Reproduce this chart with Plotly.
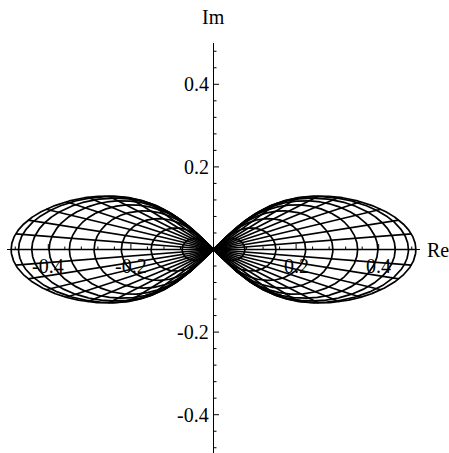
import numpy as np
import plotly.graph_objects as go

# ---- data ----
# real-axis extents of the nested loops (same on both sides)
loop_extents = [0.076, 0.151, 0.223, 0.289, 0.349, 0.398, 0.440, 0.472, 0.490]
# directions (degrees) of the straight rays leaving the origin in the right lobe
ray_angles_deg = [-40.5, -36.0, -31.5, -27.0, -22.5, -18.0, -13.5, -9.0, -4.5, 0.0,
                  4.5, 9.0, 13.5, 18.0, 22.5, 27.0, 31.5, 36.0, 40.5]
x_ticks_major = [-0.4, -0.2, 0.2, 0.4]
x_tick_labels = ["-0.4", "-0.2", "0.2", "0.4"]
y_ticks_major = [-0.4, -0.2, 0.2, 0.4]
y_tick_labels = ["-0.4", "-0.2", "0.2", "0.4"]
minor_step = 0.04
axis_labels = ["Re", "Im"]

PX = 413.0  # pixels per unit
W, H = 449, 453
ML, MR, MT, MB = 7, 29, 43, 0
yr_lo = 0.5 - (H - MT - MB) / PX
X0 = ML + 0.5 * PX          # pixel x of the origin
Y0 = MT + 0.5 * PX          # pixel y of the origin
FLAT = 1.3                  # how much the larger loops flatten


def loop_points(a, n=1500):
    """Closed loop through the origin reaching the real axis at a."""
    t = a * a
    A = t / 2.0
    B = A * (1.0 - FLAT * t)
    tau = np.linspace(0, 2 * np.pi, n)
    zeta = A * (1 + np.cos(tau)) + 1j * B * np.sin(tau)
    return np.sqrt(zeta)


fig = go.Figure()
line = dict(color="black", width=1.7)

for a in loop_extents:
    w = loop_points(a)
    for s in (1, -1):
        fig.add_trace(go.Scatter(x=s * w.real, y=w.imag, mode="lines", line=line,
                                 hoverinfo="skip", showlegend=False))

# rays end on the outermost loop
wo = loop_points(max(loop_extents), 4000)
half = wo[: len(wo) // 2]
ang = np.degrees(np.angle(half))
rad = np.abs(half)
order = np.argsort(ang)
for a_deg in ray_angles_deg:
    rend = np.interp(abs(a_deg), ang[order], rad[order])
    b = np.deg2rad(a_deg)
    tt = np.array([0.0, rend])
    for s in (1, -1):
        fig.add_trace(go.Scatter(x=s * tt * np.cos(b), y=tt * np.sin(b), mode="lines",
                                 line=line, hoverinfo="skip", showlegend=False))

shapes = []
ax_line = dict(color="black", width=1)
shapes.append(dict(type="line", xref="x", yref="y", x0=-0.5, x1=0.5, y0=0, y1=0, line=ax_line))
shapes.append(dict(type="line", xref="x", yref="y", x0=0, x1=0, y0=-0.5, y1=0.5, line=ax_line))

major_len = 5.5 / PX
minor_len = 3.0 / PX
n = int(round(0.5 / minor_step))
for i in range(-n, n + 1):
    v = i * minor_step
    if i == 0:
        continue
    is_major = any(abs(v - m) < 1e-9 for m in x_ticks_major)
    L = major_len if is_major else minor_len
    shapes.append(dict(type="line", xref="x", yref="y", x0=v, x1=v, y0=0, y1=L, line=ax_line))
    shapes.append(dict(type="line", xref="x", yref="y", x0=0, x1=L, y0=v, y1=v, line=ax_line))

font = dict(family="Liberation Serif, Times New Roman, serif", size=20, color="black")
ann = []
for v, lab in zip(x_ticks_major, x_tick_labels):
    ann.append(dict(x=v, y=-16.5 / PX, xref="x", yref="y", text=lab, showarrow=False,
                    xanchor="center", yanchor="middle", font=font))
for v, lab in zip(y_ticks_major, y_tick_labels):
    ann.append(dict(x=-3.0 / PX, y=v, xref="x", yref="y", text=lab, showarrow=False,
                    xanchor="right", yanchor="middle", font=font))
# axis titles placed in paper coordinates (they sit outside the plotted range)
ann.append(dict(x=(425 - ML) / (W - ML - MR), y=(H - MB - Y0) / (H - MT - MB),
                xref="paper", yref="paper", text=axis_labels[0], showarrow=False,
                xanchor="left", yanchor="middle", font=font))
ann.append(dict(x=(X0 - ML) / (W - ML - MR), y=(H - MB - 17) / (H - MT - MB),
                xref="paper", yref="paper", text=axis_labels[1], showarrow=False,
                xanchor="center", yanchor="middle", font=font))

fig.update_layout(
    width=W, height=H, margin=dict(l=ML, r=MR, t=MT, b=MB, pad=0),
    paper_bgcolor="white", plot_bgcolor="white",
    xaxis=dict(range=[-0.5, 0.5], visible=False, fixedrange=True),
    yaxis=dict(range=[yr_lo, 0.5], visible=False, fixedrange=True),
    shapes=shapes, annotations=ann, showlegend=False,
)
fig.write_html("out.html", config={"displayModeBar": False},
               post_script="document.body.style.margin='0px';document.body.style.overflow='hidden';")
